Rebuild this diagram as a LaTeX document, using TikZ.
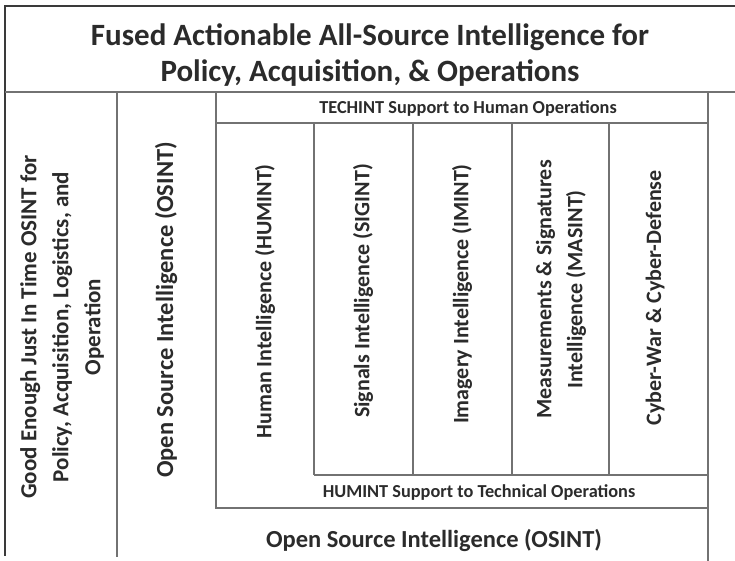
\documentclass[tikz,border=0pt]{standalone}
\usepackage{fontspec}
\setmainfont{Carlito}
\definecolor{rulegray}{HTML}{727272}
\definecolor{edgegray}{HTML}{3A3A3A}
\definecolor{ink}{HTML}{2B2B2B}
\begin{document}
\begin{tikzpicture}
        [
          x=1pt,y=-1pt,
          rule/.style={draw=rulegray,line width=2.2pt},
          edge/.style={draw=edgegray,line width=1.4pt},
          vlabel/.style={rotate=90,align=center,inner sep=0pt,text=ink,
            font=\bfseries\fontsize{22}{31}\selectfont},
          biglabel/.style={inner sep=0pt,text=ink,font=\bfseries\fontsize{24.5}{30}\selectfont},
          hlabel/.style={inner sep=0pt,text=ink,font=\bfseries\fontsize{18.3}{22}\selectfont},
          title/.style={align=center,inner sep=0pt,text=ink,
            font=\bfseries\fontsize{31}{36}\selectfont}
        ]
        \useasboundingbox (0,0) rectangle (735,561);
        % outer frame
        \draw [edge] (735,6) -- (5,6) -- (5,556);
        \draw [rule] (5,92) -- (735,92);
        % left columns
        \draw [rule] (117,92) -- (117,557);
        \draw [rule] (216,92) -- (216,508) -- (708,508);
        \draw [rule] (708,92) -- (708,561);
        % techint row
        \draw [rule] (216,123) -- (708,123);
        % int columns
        \foreach \x in {314,413,512,609} {
            \draw [rule] (\x,123) -- (\x,475);
        }
        \draw [rule] (314,475) -- (708,475);
        % labels
        \node [title] (fused) at (370,55) {Fused Actionable All-Source Intelligence for\\Policy, Acquisition, \& Operations};
        \node [vlabel,font=\bfseries\fontsize{23}{32}\selectfont] (good) at (62,327) {Good Enough Just In Time OSINT for\\Policy, Acquisition, Logistics, and\\Operation};
        \node [biglabel,rotate=90] (osintv) at (166,310) {Open Source Intelligence (OSINT)};
        \node [hlabel] (techint) at (468,109) {TECHINT Support to Human Operations};
        \node [vlabel,anchor=east] (humint) at (265,164) {Human Intelligence (HUMINT)};
        \node [vlabel,anchor=east] (sigint) at (363,164) {Signals Intelligence (SIGINT)};
        \node [vlabel,anchor=east] (imint) at (462,164) {Imagery Intelligence (IMINT)};
        \node [vlabel,anchor=east] (masint) at (561,160) {Measurements \& Signatures\\Intelligence (MASINT)};
        \node [vlabel,anchor=east] (cyber) at (655,170) {Cyber-War \& Cyber-Defense};
        \node [hlabel] (humsup) at (479,492) {HUMINT Support to Technical Operations};
        \node [biglabel] (osinth) at (434,540) {Open Source Intelligence (OSINT)};
\end{tikzpicture}
\end{document}
